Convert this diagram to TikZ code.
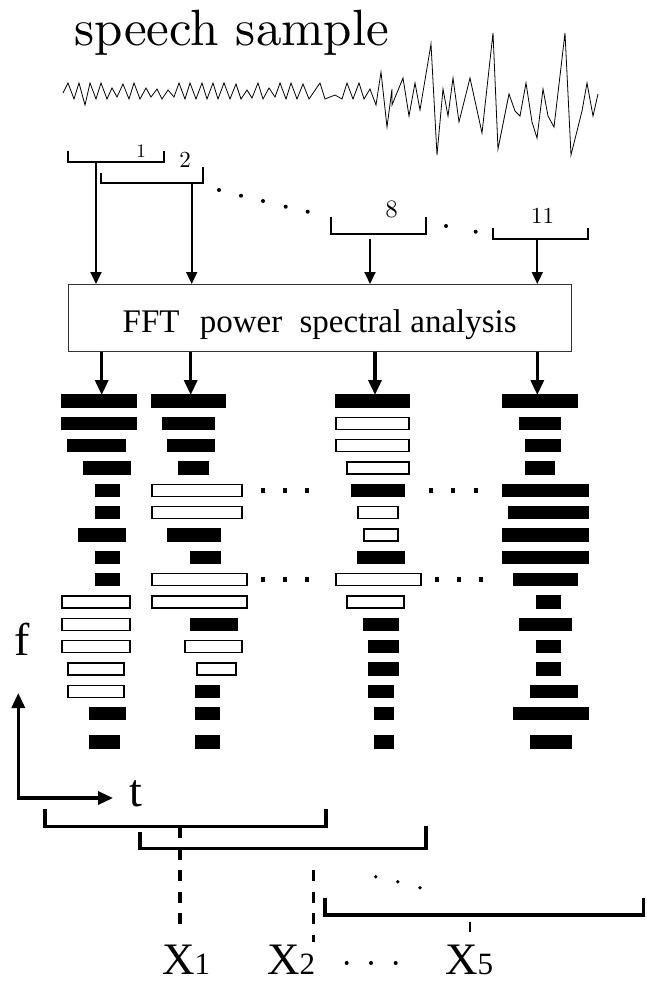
\documentclass[tikz,border=0pt]{standalone}
\usepackage{fontspec}
\newfontfamily\tms{Liberation Serif}
\newfontfamily\lmten{lmroman10-regular}[Extension=.otf]
\usetikzlibrary{arrows.meta}

\begin{document}
\begin{tikzpicture}[
    x=1pt,y=-1pt,
    wave/.style={line width=0.8pt,line join=miter},
    brk/.style={line width=2pt},
    bigbrk/.style={line width=3.3pt},
    arr/.style={-{Triangle[length=12pt,width=11pt]},line width=1.8pt},
    thickarr/.style={-{Triangle[length=15pt,width=13pt]},line width=3.3pt},
    axisarr/.style={{Triangle[length=15pt,width=13pt]}-{Triangle[length=15pt,width=13pt]},line width=3.3pt},
    bigdash/.style={line width=3.3pt,dash pattern=on 11pt off 10.5pt},
    fftbox/.style={draw=black!80,line width=1pt,minimum width=503pt,minimum height=66.7pt,
                   inner sep=0pt,text height=36pt,text depth=7pt,font=\tms\fontsize{33}{36}\selectfont},
    num/.style={inner sep=0pt},
    bar/.style={draw=black,line width=1.2pt},
    xlab/.style={anchor=base west,inner sep=0pt,font=\tms\fontsize{45}{50}\selectfont}
  ]
    \useasboundingbox (0,0) rectangle (646,983);

    \node[anchor=base west,inner sep=0pt,font=\lmten\fontsize{51}{56}\selectfont] (title) at (74,45) {speech sample};
    \draw[wave] plot coordinates {(63,93) (68,83) (74,99) (79,83) (85,105) (90,83) (96,99) (101,83)
      (107,99) (112,88) (117,97) (123,84) (129,99) (134,83) (140,99) (146,88) (151,97) (157,89)
      (162,99) (168,90) (174,97) (179,83) (185,99) (190,83) (196,99) (202,83) (207,99) (213,83)
      (218,99) (224,83) (230,99) (236,84) (241,99) (247,90) (252,98) (258,83) (263,99) (269,88)
      (275,97) (280,83) (286,99) (291,83) (297,99) (303,84) (309,99) (320,83) (325,99) (335,95)
      (342,99) (347,83) (353,99) (359,83) (364,99) (370,89) (376,105) (381,72) (387,127) (392,89)
      (392,105) (403,78) (409,116) (415,83) (420,110) (431,44) (437,155) (443,89) (448,116) (453,78)
      (459,122) (470,78) (482,133) (493,33) (498,149) (509,94) (515,111) (520,116) (526,83) (532,122)
      (537,138) (543,89) (548,116) (554,127) (565,33) (571,155) (582,111) (587,83) (593,116) (598,94)};

    \draw[brk] (68,150.7) -- (68,161.7) -- (164,161.7) -- (164,150.7);
    \node[num,font=\lmten\fontsize{19}{22}\selectfont] (n1) at (141,150.7) {1};
    \draw[brk] (101,172.7) -- (101,182.7) -- (203.3,182.7) -- (203.3,166.7);
    \node[num,font=\lmten\fontsize{23}{26}\selectfont] (n2) at (185,160) {2};
    \draw[brk] (330.7,217.3) -- (330.7,234) -- (426,234) -- (426,217.3);
    \node[num,font=\lmten\fontsize{25}{28}\selectfont] (n8) at (391.7,209.3) {8};
    \draw[brk] (492.7,228.3) -- (492.7,239) -- (587.7,239) -- (587.7,228.3);
    \node[num,font=\lmten\fontsize{23}{26}\selectfont] (n11) at (542.7,216) {11};
    \foreach \x/\y in {219/190,241/195.7,263/201,285.7/206.7,307.7/211.7,446/226,475.7/231.7}
      \fill (\x,\y) circle (2pt);

    \node[fftbox,anchor=north west] (fft) at (67.7,284) {FFT\hspace{12pt} power\hspace{9pt} spectral analysis};

    \coordinate (w1) at (96,161.7);
    \coordinate (w2) at (191.7,182.7);
    \coordinate (w8) at (370,239.3);
    \coordinate (w11) at (537.3,239);
    \foreach \w in {w1,w2,w8,w11}
      \draw[arr] (\w) -- (\w |- fft.north);

    \coordinate (s1) at (101.7,395);
    \coordinate (s2) at (190.7,395);
    \coordinate (s8) at (375,395);
    \coordinate (s11) at (537.3,395);
    \foreach \s in {s1,s2,s8,s11}
      \draw[thickarr] (\s |- fft.south) -- (\s);

    \foreach \a/\b/\c [count=\r] in {62/136/black,62/136/black,68/125/black,84/130/black,
        96/119/black,96/119/black,79/125/black,96/119/black,96/119/black,62/130/white,
        62/130/white,62/130/white,68/124/white,68/124/white,90/125/black,90/119/black}{
      \pgfmathsetmacro\yy{401+22.33*(\r-1)+6*(\r==16)}
      \draw[bar,fill=\c] (\a,\yy-6) rectangle (\b,\yy+6);
    }
    \foreach \a/\b/\c [count=\r] in {152/225/black,163/214/black,168/214/black,179/208/black,
        152/242/white,152/242/white,168/220/black,191/220/black,152/247/white,152/247/white,
        191/237/black,185/242/white,197/236/white,196/219/black,196/219/black,196/219/black}{
      \pgfmathsetmacro\yy{401+22.33*(\r-1)+6*(\r==16)}
      \draw[bar,fill=\c] (\a,\yy-6) rectangle (\b,\yy+6);
    }
    \foreach \a/\b/\c [count=\r] in {336/409/black,336/409/white,336/409/white,347/409/white,
        352/404/black,358/398/white,364/398/white,358/404/black,336/421/white,347/404/white,
        364/398/black,369/398/black,369/398/black,369/393/black,375/393/black,375/393/black}{
      \pgfmathsetmacro\yy{401+22.33*(\r-1)+6*(\r==16)}
      \draw[bar,fill=\c] (\a,\yy-6) rectangle (\b,\yy+6);
    }
    \foreach \a/\b [count=\r] in {503/577,520/560,526/560,526/554,503/588,509/588,503/588,503/588,
        514/577,537/560,520/571,537/560,537/560,531/577,514/588,531/571}{
      \pgfmathsetmacro\yy{401+22.33*(\r-1)+6*(\r==16)}
      \draw[bar,fill=black] (\a,\yy-6) rectangle (\b,\yy+6);
    }
    \foreach \x/\y in {263/490.3,285/490.3,307/490.3,431/490.3,453/490.3,476/490.3,
        263/579.7,285/579.7,307/579.7,437/579.7,459/579.7,481/579.7}
      \fill (\x-2.3,\y-2.3) rectangle (\x+2.3,\y+2.3);

    \node[inner sep=0pt,font=\tms\fontsize{46}{50}\selectfont] (flab) at (22,639) {f};
    \coordinate (fend) at (18.3,693);
    \coordinate (tend) at (113,798);
    \draw[axisarr] (fend) |- (tend);
    \node[inner sep=0pt,font=\tms\fontsize{46}{50}\selectfont] (tlab) at (136,794) {t};

    \draw[bigbrk] (45,809.3) -- (45,826.7) -- (326,826.7) -- (326,809.3);
    \draw[bigbrk] (140,831.7) -- (140,848.3) -- (426,848.3) -- (426,826);
    \draw[bigbrk] (325,898.3) -- (325,915) -- (643.3,915) -- (643.3,898.3);
    \foreach \x/\y in {375.7/876.7,397.7/881.7,420/887.7}
      \fill (\x,\y) circle (1.9pt);

    \node[xlab] (x1) at (162,974) {X\fontsize{31}{34}\selectfont 1};
    \node[xlab] (x2) at (267,974) {X\fontsize{31}{34}\selectfont 2};
    \node[xlab] (x5) at (445,974) {X\fontsize{31}{34}\selectfont 5};
    \foreach \x in {346.7,371,395.7}
      \fill (\x,963) circle (2pt);

    \coordinate (d1) at (180,827);
    \coordinate (d2) at (313.3,870);
    \coordinate (d5) at (470,921.7);
    \draw[bigdash] (d1) -- (d1 |- 0,924);
    \draw[bigdash] (d2) -- (d2 |- 0,942);
    \draw[line width=2pt] (d5) -- (d5 |- 0,931.7);
  \end{tikzpicture}
\end{document}
